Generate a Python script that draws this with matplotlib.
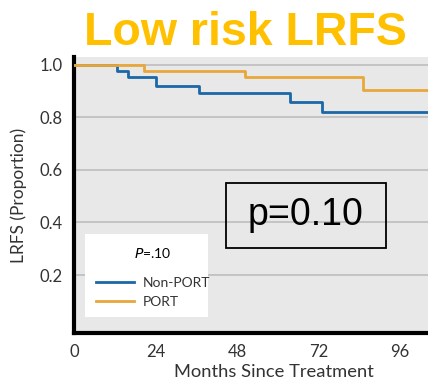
import matplotlib
matplotlib.use('Agg')
import matplotlib.pyplot as plt
from matplotlib.patches import Rectangle

# ============================================================
# DATA
# ============================================================

non_port_months = [0, 12.7, 15.8, 24.1, 36.8, 63.6, 73.2, 105]
non_port_surv   = [1.0, 0.975, 0.952, 0.920, 0.894, 0.860, 0.822, 0.822]

port_months = [0, 20.7, 50.4, 85.0, 105]
port_surv   = [1.0, 0.978, 0.953, 0.905, 0.905]

x_ticks = [0, 24, 48, 72, 96]
y_ticks = [0.2, 0.4, 0.6, 0.8, 1.0]

TITLE   = 'Low risk LRFS'
P_TEXT  = 'p=0.10'

BLUE   = '#1b67a8'
ORANGE = '#e7a73a'
GOLD   = '#ffc000'
FONT   = 'Lato'

# ============================================================
# FIGURE
# ============================================================

fig = plt.figure(figsize=(4.28, 3.82), dpi=100)
ax = fig.add_axes([0.173, 0.128, 0.827, 0.723])
ax.set_facecolor('#e8e8e8')

ax.plot(non_port_months, non_port_surv, drawstyle='steps-post',
        color=BLUE, lw=2.0, label='Non-PORT', zorder=3)
ax.plot(port_months, port_surv, drawstyle='steps-post',
        color=ORANGE, lw=2.0, label='PORT', zorder=3)

ax.set_xlim(0, 104.3)
ax.set_ylim(-0.021, 1.03)
ax.set_xticks(x_ticks)
ax.set_yticks(y_ticks)
ax.set_yticklabels([f'{v:.1f}' for v in y_ticks])
ax.tick_params(length=0, labelsize=12, pad=8, colors='#333333')
for lab in ax.get_xticklabels() + ax.get_yticklabels():
    lab.set_fontfamily(FONT)

ax.yaxis.grid(True, color='#c4c4c4', lw=1.4)
ax.set_axisbelow(True)

for side in ['top', 'right']:
    ax.spines[side].set_visible(False)
for side in ['left', 'bottom']:
    ax.spines[side].set_linewidth(3)
    ax.spines[side].set_color('black')

ax.set_ylabel('LRFS (Proportion)', fontsize=12.5, family=FONT,
              color='#333333', labelpad=9)
fig.text(0.640, 0.025, 'Months Since Treatment', fontsize=13.2,
         family=FONT, color='#333333', ha='center', va='center')

# legend with white box
ax.add_patch(Rectangle((0.031, 0.058), 0.348, 0.301, transform=ax.transAxes,
                       facecolor='white', edgecolor='none', zorder=4))
leg = ax.legend(loc='upper left', bbox_to_anchor=(0.028, 0.36),
                frameon=False, fontsize=10, handlelength=2.7,
                handletextpad=0.6, labelspacing=0.5,
                title='$P$=.10', title_fontsize=10)
leg._legend_box.sep = 12
leg.set_zorder(5)
for t in leg.get_texts():
    t.set_fontfamily(FONT)
    t.set_color('#333333')
leg.get_title().set_fontfamily(FONT)

# p-value box
ax.add_patch(Rectangle((0.429, 0.308), 0.452, 0.235, transform=ax.transAxes,
                       facecolor='none', edgecolor='black', lw=1.3, zorder=4))
ax.text(0.655, 0.426, P_TEXT, transform=ax.transAxes, fontsize=27,
        family='Liberation Sans', ha='center', va='center', zorder=5)

fig.text(0.574, 0.913, TITLE, fontsize=33.5, fontweight='bold',
         family='Liberation Sans', color=GOLD, ha='center', va='center')

fig.savefig('out.png', dpi=100)
